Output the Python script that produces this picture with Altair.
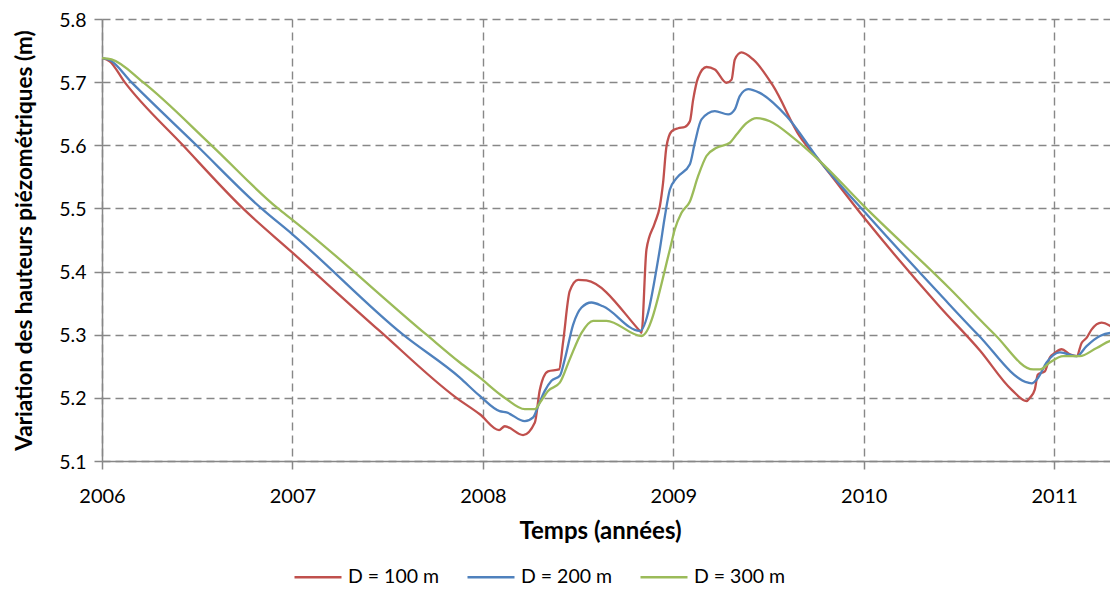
import altair as alt
import pandas as pd

series_names = ["D = 100 m", "D = 200 m", "D = 300 m"]
series_colors = ["#C0504D", "#4F81BD", "#9BBB59"]
year_ticks = [2006, 2007, 2008, 2009, 2010, 2011]
level_ticks = [5.1, 5.2, 5.3, 5.4, 5.5, 5.6, 5.7, 5.8]

red_t = [2006.0, 2006.04, 2006.119, 2006.425, 2006.74, 2007.0, 2007.458, 2007.861, 2007.984,
         2008.085, 2008.115, 2008.211, 2008.273, 2008.299, 2008.342, 2008.40, 2008.421, 2008.456,
         2008.50, 2008.544, 2008.824, 2008.833, 2008.859, 2008.903, 2008.929, 2008.946, 2008.964,
         2008.991, 2009.025, 2009.06, 2009.087, 2009.104, 2009.13, 2009.174, 2009.218, 2009.279,
         2009.306, 2009.323, 2009.358, 2009.419, 2009.524, 2009.664, 2009.769, 2010.0, 2010.40,
         2010.61, 2010.776, 2010.855, 2010.872, 2010.898, 2010.914, 2010.951, 2010.977, 2011.003,
         2011.039, 2011.082, 2011.118, 2011.144, 2011.17, 2011.196, 2011.249, 2011.293, 2011.335]
red_h = [5.738, 5.733, 5.700, 5.600, 5.500, 5.430, 5.306, 5.200, 5.174,
         5.149, 5.155, 5.141, 5.161, 5.213, 5.242, 5.245, 5.288, 5.369,
         5.387, 5.386, 5.306, 5.303, 5.435, 5.477, 5.503, 5.540, 5.598,
         5.622, 5.627, 5.629, 5.638, 5.672, 5.707, 5.724, 5.720, 5.699,
         5.704, 5.736, 5.747, 5.736, 5.694, 5.614, 5.575, 5.486, 5.344,
         5.275, 5.213, 5.195, 5.200, 5.213, 5.237, 5.242, 5.264, 5.271,
         5.277, 5.269, 5.266, 5.287, 5.295, 5.308, 5.319, 5.314, 5.303]

blue_t = [2006.0, 2006.04, 2006.154, 2006.496, 2006.837, 2007.0, 2007.581, 2007.879, 2007.984,
          2008.088, 2008.124, 2008.22, 2008.264, 2008.29, 2008.325, 2008.36, 2008.404, 2008.43,
          2008.474, 2008.518, 2008.57, 2008.631, 2008.824, 2008.929, 2008.956, 2008.982, 2009.017,
          2009.087, 2009.113, 2009.148, 2009.218, 2009.288, 2009.323, 2009.349, 2009.393, 2009.454,
          2009.595, 2009.769, 2010.0, 2010.40, 2010.60, 2010.863, 2010.881, 2010.916, 2010.96,
          2011.03, 2011.118, 2011.17, 2011.24, 2011.31, 2011.335]
blue_h = [5.738, 5.735, 5.700, 5.600, 5.500, 5.459, 5.300, 5.232, 5.203,
          5.179, 5.177, 5.163, 5.169, 5.187, 5.211, 5.227, 5.235, 5.261,
          5.316, 5.343, 5.351, 5.345, 5.306, 5.435, 5.488, 5.530, 5.548,
          5.570, 5.604, 5.641, 5.654, 5.649, 5.657, 5.678, 5.689, 5.683,
          5.646, 5.575, 5.496, 5.364, 5.300, 5.224, 5.223, 5.232, 5.256,
          5.272, 5.266, 5.282, 5.298, 5.303, 5.298]

green_t = [2006.0, 2006.05, 2006.215, 2006.575, 2006.924, 2007.0, 2007.704, 2007.879, 2007.984,
           2008.088, 2008.124, 2008.22, 2008.273, 2008.299, 2008.342, 2008.404, 2008.456, 2008.518,
           2008.579, 2008.649, 2008.833, 2008.982, 2009.008, 2009.043, 2009.087, 2009.13, 2009.174,
           2009.227, 2009.297, 2009.332, 2009.384, 2009.437, 2009.507, 2009.629, 2009.769, 2010.0,
           2010.455, 2010.689, 2010.89, 2010.925, 2010.977, 2011.047, 2011.134, 2011.223, 2011.31,
           2011.335]
green_h = [5.738, 5.736, 5.700, 5.600, 5.500, 5.482, 5.300, 5.256, 5.232,
           5.206, 5.198, 5.182, 5.182, 5.192, 5.211, 5.224, 5.261, 5.303,
           5.322, 5.322, 5.298, 5.435, 5.467, 5.493, 5.511, 5.551, 5.583,
           5.596, 5.604, 5.617, 5.635, 5.643, 5.638, 5.612, 5.575, 5.504,
           5.372, 5.300, 5.245, 5.245, 5.256, 5.266, 5.266, 5.279, 5.291,
           5.290]

rows = []
for name, ts, hs in zip(series_names, [red_t, blue_t, green_t], [red_h, blue_h, green_h]):
    for t, h in zip(ts, hs):
        rows.append({"t": t, "h": h, "serie": name})
df = pd.DataFrame(rows)

FONT = "Lato"
GRID = "#878787"

chart = alt.Chart(df).mark_line(strokeWidth=2.3, clip=True, interpolate="monotone").encode(
    x=alt.X("t:Q",
            scale=alt.Scale(domain=[2006, 2011.293], nice=False, zero=False),
            axis=alt.Axis(values=year_ticks, format="d", title="Temps (années)",
                          labelFont=FONT, labelFontSize=20, labelColor="#000000",
                          labelPadding=17, labelFlush=False,
                          titleFont=FONT, titleFontSize=24, titleFontWeight="bold", titleColor="#000000",
                          titleX=498, titleY=70, titleBaseline="middle", titleAlign="center",
                          domainColor=GRID, domainWidth=1.5,
                          tickColor=GRID, tickSize=8, tickWidth=1.5,
                          grid=True, gridColor=GRID, gridWidth=1.4, gridDash=[8, 5])),
    y=alt.Y("h:Q",
            scale=alt.Scale(domain=[5.1, 5.8], nice=False, zero=False),
            axis=alt.Axis(values=level_ticks, format=".1f",
                          title="Variation des hauteurs piézométriques (m)",
                          labelFont=FONT, labelFontSize=19.5, labelColor="#000000",
                          labelPadding=8, labelOffset=1,
                          titleFont=FONT, titleFontSize=22.5, titleFontWeight="bold", titleColor="#000000",
                          titleX=-78, titleY=221, titleBaseline="middle", titleAlign="center",
                          titleAngle=270,
                          domainColor=GRID, domainWidth=1.5,
                          tickColor=GRID, tickSize=8, tickWidth=1.5,
                          grid=True, gridColor=GRID, gridWidth=1.4, gridDash=[8, 5])),
    color=alt.Color("serie:N",
                    scale=alt.Scale(domain=series_names, range=series_colors),
                    legend=alt.Legend(title=None, orient="none", legendX=191, legendY=533,
                                      direction="horizontal", symbolType="stroke",
                                      symbolSize=2209, symbolStrokeWidth=2.3,
                                      labelFont=FONT, labelFontSize=19.5, labelColor="#000000",
                                      labelOffset=5, columnPadding=22)),
).properties(
    width=1008,
    height=442,
    padding={"left": 94, "top": 11, "right": 0, "bottom": 125},
    autosize=alt.AutoSizeParams(type="none"),
).configure_view(stroke=None)

chart.save("out.html", embed_options={"renderer": "svg", "actions": False})
